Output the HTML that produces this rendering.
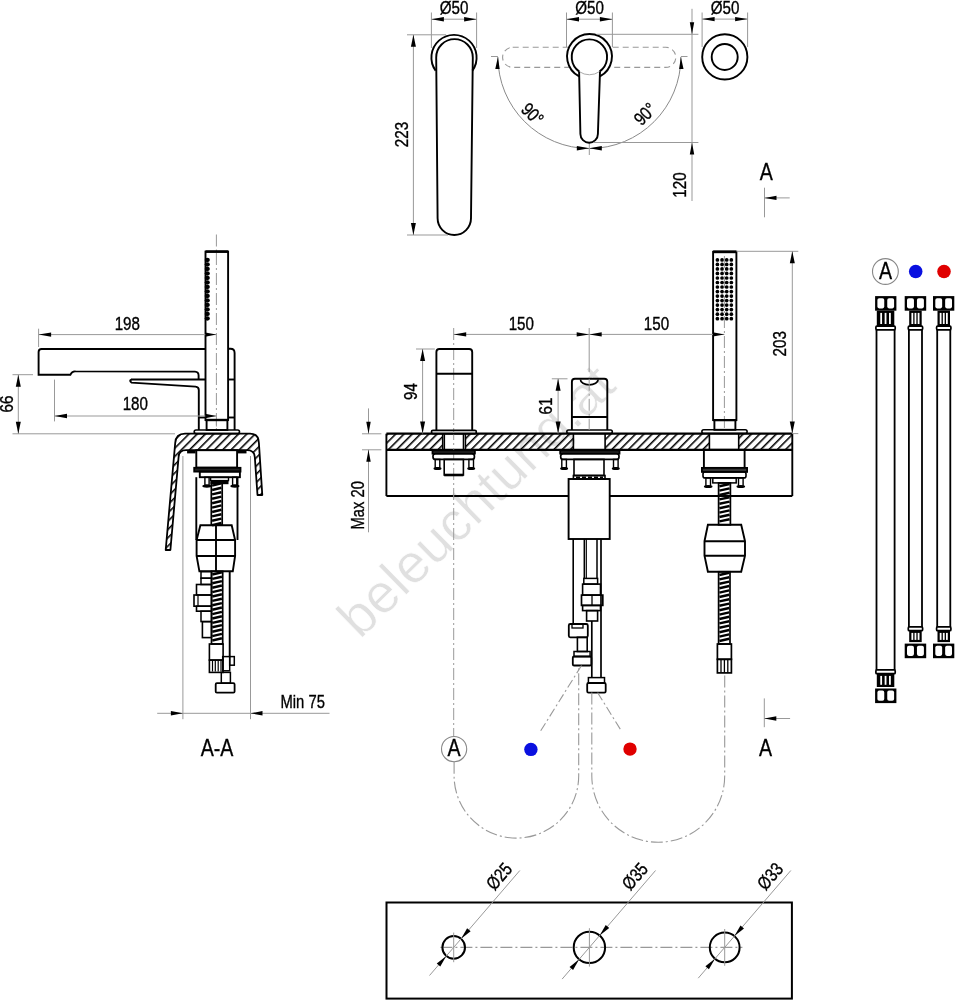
<!DOCTYPE html>
<html><head><meta charset="utf-8"><style>
html,body{margin:0;padding:0;background:#fff;overflow:hidden;}
svg{display:block;will-change:transform;}
text{font-family:"Liberation Sans",sans-serif;}
</style></head><body>
<svg width="955" height="1000" viewBox="0 0 955 1000">
<defs>
<pattern id="hatch" patternUnits="userSpaceOnUse" width="5.85" height="5.85" patternTransform="translate(1.3,0) rotate(45)">
<line x1="0.7" y1="0" x2="0.7" y2="5.85" stroke="#000" stroke-width="1.7"/>
</pattern>
</defs>
<rect width="955" height="1000" fill="#fff"/>
<text transform="translate(360,640) rotate(-44.3)" font-size="55" fill="#e0e0e0" stroke="#fff" stroke-width="0.6" font-family="Liberation Sans, sans-serif">beleuchtung.at</text>
<line x1="431.40" y1="12.50" x2="431.40" y2="48.00" stroke="#999" stroke-width="1.0" />
<line x1="476.60" y1="12.50" x2="476.60" y2="48.00" stroke="#999" stroke-width="1.0" />
<line x1="431.40" y1="19.20" x2="476.60" y2="19.20" stroke="#999" stroke-width="1.0" />
<path d="M431.40,19.20 L443.90,17.00 L443.90,21.40 Z" fill="#000"/>
<path d="M476.60,19.20 L464.10,21.40 L464.10,17.00 Z" fill="#000"/>
<text transform="translate(454.00,14.00) rotate(0) scale(0.82,1)" font-size="18.5" text-anchor="middle" fill="#000" stroke="#000" stroke-width="0.35" >Ø50</text>
<path d="M435.6,70.6 A22.6,22.6 0 1 1 472.4,70.6" stroke="#000" stroke-width="1.9" fill="none" />
<path d="M436.2,57.4 A18.3,18.3 0 0 1 472.8,57.4 L471.0,218.3 A16.7,16.7 0 0 1 437.6,218.3 Z" stroke="#000" stroke-width="1.9" fill="none" />
<line x1="407.00" y1="34.80" x2="446.00" y2="34.80" stroke="#999" stroke-width="1.0" />
<line x1="407.00" y1="235.00" x2="448.00" y2="235.00" stroke="#999" stroke-width="1.0" />
<line x1="413.40" y1="34.80" x2="413.40" y2="235.00" stroke="#999" stroke-width="1.0" />
<path d="M413.40,34.80 L415.90,46.80 L410.90,46.80 Z" fill="#000"/>
<path d="M413.40,235.00 L410.90,223.00 L415.90,223.00 Z" fill="#000"/>
<text transform="translate(407.60,134.50) rotate(-90) scale(0.82,1)" font-size="18.5" text-anchor="middle" fill="#000" stroke="#000" stroke-width="0.35" >223</text>
<line x1="566.50" y1="12.50" x2="566.50" y2="47.00" stroke="#999" stroke-width="1.0" />
<line x1="612.40" y1="12.50" x2="612.40" y2="47.00" stroke="#999" stroke-width="1.0" />
<line x1="566.50" y1="19.20" x2="612.40" y2="19.20" stroke="#999" stroke-width="1.0" />
<path d="M566.50,19.20 L579.00,17.00 L579.00,21.40 Z" fill="#000"/>
<path d="M612.40,19.20 L599.90,21.40 L599.90,17.00 Z" fill="#000"/>
<text transform="translate(589.50,14.00) rotate(0) scale(0.82,1)" font-size="18.5" text-anchor="middle" fill="#000" stroke="#000" stroke-width="0.35" >Ø50</text>
<rect x="502.6" y="47.2" width="173.2" height="20.2" rx="10.1" stroke="#999" stroke-width="1.1" fill="none" stroke-dasharray="6 4"/>
<path d="M497.9,57 A91.5,91.5 0 0 0 589.4,148.5 A91.5,91.5 0 0 0 680.9,57" stroke="#8a8a8a" stroke-width="1" fill="none"/>
<line x1="491.00" y1="56.50" x2="497.90" y2="56.50" stroke="#999" stroke-width="1.0" />
<line x1="680.90" y1="56.50" x2="687.50" y2="56.50" stroke="#999" stroke-width="1.0" />
<path d="M497.90,57.00 L499.68,69.07 L495.28,68.92 Z" fill="#000"/>
<path d="M680.90,57.00 L683.52,68.92 L679.12,69.07 Z" fill="#000"/>
<path d="M589.30,148.30 L576.80,150.50 L576.80,146.10 Z" fill="#000"/>
<path d="M589.30,148.30 L601.80,146.10 L601.80,150.50 Z" fill="#000"/>
<line x1="589.30" y1="142.00" x2="589.30" y2="155.00" stroke="#999" stroke-width="1.0" />
<text transform="translate(528.00,118.50) rotate(45) scale(0.82,1)" font-size="18.5" text-anchor="middle" fill="#000" stroke="#000" stroke-width="0.35" >90°</text>
<text transform="translate(649.50,118.50) rotate(-45) scale(0.82,1)" font-size="18.5" text-anchor="middle" fill="#000" stroke="#000" stroke-width="0.35" >90°</text>
<rect x="567" y="34.4" width="45" height="45" fill="#fff" stroke="none" rx="22.5"/>
<path d="M579.1,76.4 A22.45,22.45 0 1 1 599.9,76.4" stroke="#000" stroke-width="1.9" fill="none" />
<path d="M579.3,71.6 A17.7,17.7 0 1 1 599.5,71.6" stroke="#000" stroke-width="1.9" fill="none" />
<path d="M579.3,71.6 A17.7,17.7 0 0 0 599.5,71.6" stroke="#aaa" stroke-width="1" fill="none"/>
<path d="M579.1,71.6 L580.4,134 A8.75,8.75 0 0 0 597.9,134 L600.0,71.6" stroke="#000" stroke-width="1.9" fill="none" />
<line x1="596.50" y1="34.30" x2="698.40" y2="34.30" stroke="#999" stroke-width="1.0" />
<line x1="594.00" y1="142.50" x2="698.40" y2="142.50" stroke="#999" stroke-width="1.0" />
<line x1="692.00" y1="8.80" x2="692.00" y2="201.00" stroke="#999" stroke-width="1.0" />
<path d="M692.00,34.30 L689.80,22.30 L694.20,22.30 Z" fill="#000"/>
<path d="M692.00,142.50 L694.20,154.50 L689.80,154.50 Z" fill="#000"/>
<text transform="translate(686.20,185.00) rotate(-90) scale(0.82,1)" font-size="18.5" text-anchor="middle" fill="#000" stroke="#000" stroke-width="0.35" >120</text>
<circle cx="724.80" cy="56.90" r="22.60" stroke="#000" stroke-width="1.9" fill="none" />
<circle cx="724.70" cy="57.00" r="13.00" stroke="#000" stroke-width="1.9" fill="none" />
<line x1="702.10" y1="12.50" x2="702.10" y2="47.00" stroke="#999" stroke-width="1.0" />
<line x1="747.60" y1="12.50" x2="747.60" y2="47.00" stroke="#999" stroke-width="1.0" />
<line x1="702.10" y1="19.10" x2="747.60" y2="19.10" stroke="#999" stroke-width="1.0" />
<path d="M702.10,19.10 L714.60,16.90 L714.60,21.30 Z" fill="#000"/>
<path d="M747.60,19.10 L735.10,21.30 L735.10,16.90 Z" fill="#000"/>
<text transform="translate(725.00,14.00) rotate(0) scale(0.82,1)" font-size="18.5" text-anchor="middle" fill="#000" stroke="#000" stroke-width="0.35" >Ø50</text>
<text transform="translate(766.20,179.60) rotate(0) scale(0.8,1)" font-size="24.5" text-anchor="middle" fill="#000" stroke="#000" stroke-width="0.35" >A</text>
<line x1="764.50" y1="187.70" x2="764.50" y2="217.30" stroke="#999" stroke-width="1.0" />
<line x1="764.50" y1="197.90" x2="789.70" y2="197.90" stroke="#999" stroke-width="1.0" />
<path d="M764.50,197.90 L776.50,195.70 L776.50,200.10 Z" fill="#000"/>
<line x1="216.40" y1="234.50" x2="216.40" y2="430.00" stroke="#999" stroke-width="1.0" stroke-dasharray="12 3 2 3"/>
<rect x="205.5" y="251.6" width="22.6" height="168.4" fill="#fff"/>
<line x1="216.40" y1="253.00" x2="216.40" y2="430.00" stroke="#999" stroke-width="1.0" stroke-dasharray="12 3 2 3"/>
<rect x="205.50" y="251.60" width="22.60" height="168.40" rx="0" stroke="#000" stroke-width="1.9" fill="none"/>
<line x1="205.50" y1="251.60" x2="228.10" y2="251.60" stroke="#000" stroke-width="2.6" />
<ellipse cx="207.3" cy="260.00" rx="2.6" ry="2.15" fill="#000"/>
<ellipse cx="207.3" cy="264.50" rx="2.6" ry="2.15" fill="#000"/>
<ellipse cx="207.3" cy="269.00" rx="2.6" ry="2.15" fill="#000"/>
<ellipse cx="207.3" cy="273.50" rx="2.6" ry="2.15" fill="#000"/>
<ellipse cx="207.3" cy="278.00" rx="2.6" ry="2.15" fill="#000"/>
<ellipse cx="207.3" cy="282.50" rx="2.6" ry="2.15" fill="#000"/>
<ellipse cx="207.3" cy="287.00" rx="2.6" ry="2.15" fill="#000"/>
<ellipse cx="207.3" cy="291.50" rx="2.6" ry="2.15" fill="#000"/>
<ellipse cx="207.3" cy="296.00" rx="2.6" ry="2.15" fill="#000"/>
<ellipse cx="207.3" cy="300.50" rx="2.6" ry="2.15" fill="#000"/>
<ellipse cx="207.3" cy="305.00" rx="2.6" ry="2.15" fill="#000"/>
<ellipse cx="207.3" cy="309.50" rx="2.6" ry="2.15" fill="#000"/>
<ellipse cx="207.3" cy="314.00" rx="2.6" ry="2.15" fill="#000"/>
<ellipse cx="207.3" cy="318.50" rx="2.6" ry="2.15" fill="#000"/>
<rect x="206.60" y="420.00" width="20.80" height="10.00" rx="0" stroke="#000" stroke-width="1.9" fill="none"/>
<line x1="205.50" y1="420.00" x2="228.10" y2="420.00" stroke="#000" stroke-width="2.4" />
<rect x="194.20" y="430.00" width="45.30" height="3.60" rx="1.8" stroke="#000" stroke-width="1.6" fill="none"/>
<path d="M205.5,349 L41.6,349 Q38.6,349 38.6,352 L38.6,374.7 L70.4,374.7 Q72,371 75.5,371.4 L195,371.6 Q198.6,371.8 198.6,375.5 L198.6,379.5" stroke="#000" stroke-width="1.9" fill="none" />
<line x1="130.90" y1="379.50" x2="205.50" y2="379.50" stroke="#000" stroke-width="1.9" />
<path d="M131.5,379.6 Q128.8,380.5 131.5,382.6 L195.5,386.6 Q198.8,386.9 198.8,390 L198.8,430" stroke="#000" stroke-width="1.9" fill="none" />
<line x1="198.80" y1="417.50" x2="205.50" y2="417.50" stroke="#000" stroke-width="1.9" />
<path d="M228.1,348.8 L230.5,348.8 Q234.6,348.8 234.6,353 L234.6,430" stroke="#000" stroke-width="1.9" fill="none" />
<line x1="228.10" y1="379.50" x2="234.60" y2="379.50" stroke="#000" stroke-width="1.9" />
<line x1="228.10" y1="417.50" x2="234.60" y2="417.50" stroke="#000" stroke-width="1.9" />
<path d="M165.7,550 L175.2,443 Q175.8,433.6 185,433.6 L250,433.6 Q258.6,433.6 258.9,443 L262.3,495 L257.5,495 L254.8,457 Q254.3,450.2 247,450.2 L186,450.2 Q179,450.2 178.6,457 L170.4,550 Z" fill="url(#hatch)" stroke="#000" stroke-width="1.8" stroke-linejoin="round"/>
<line x1="182.90" y1="456.00" x2="182.90" y2="719.20" stroke="#999" stroke-width="1.0" />
<line x1="250.50" y1="456.00" x2="250.50" y2="719.20" stroke="#999" stroke-width="1.0" />
<rect x="187.1" y="450.4" width="8.5" height="3" fill="#000"/>
<rect x="238" y="450.4" width="8.5" height="3" fill="#000"/>
<rect x="196.30" y="450.20" width="40.80" height="17.40" rx="0" stroke="#000" stroke-width="1.9" fill="none"/>
<rect x="194.20" y="467.80" width="46.30" height="3.80" rx="0" stroke="#000" stroke-width="1.8" fill="#222"/>
<rect x="199.80" y="471.60" width="40.10" height="5.60" rx="0" stroke="#000" stroke-width="1.9" fill="none"/>
<rect x="204.90" y="477.20" width="4.20" height="8.00" rx="0" stroke="#000" stroke-width="1.4" fill="none"/>
<rect x="232.60" y="477.20" width="4.20" height="8.00" rx="0" stroke="#000" stroke-width="1.4" fill="none"/>
<ellipse cx="206.9" cy="486.1" rx="4.6" ry="1.6" fill="#000"/>
<ellipse cx="234.9" cy="486.1" rx="4.6" ry="1.6" fill="#000"/>
<rect x="210.60" y="477.40" width="17.90" height="3.20" rx="0" stroke="#000" stroke-width="1.4" fill="none"/>
<rect x="210.6" y="480.6" width="17.9" height="3.6" fill="#000"/>
<line x1="196.30" y1="477.20" x2="196.30" y2="540.00" stroke="#000" stroke-width="1.9" />
<line x1="237.50" y1="477.20" x2="237.50" y2="540.00" stroke="#000" stroke-width="1.9" />
<rect x="211.30" y="482.40" width="10.90" height="42.60" rx="0" stroke="#000" stroke-width="1.7" fill="none"/>
<line x1="212.10" y1="485.60" x2="221.40" y2="483.40" stroke="#000" stroke-width="2.5" />
<line x1="212.10" y1="490.00" x2="221.40" y2="487.80" stroke="#000" stroke-width="2.5" />
<line x1="212.10" y1="494.40" x2="221.40" y2="492.20" stroke="#000" stroke-width="2.5" />
<line x1="212.10" y1="498.80" x2="221.40" y2="496.60" stroke="#000" stroke-width="2.5" />
<line x1="212.10" y1="503.20" x2="221.40" y2="501.00" stroke="#000" stroke-width="2.5" />
<line x1="212.10" y1="507.60" x2="221.40" y2="505.40" stroke="#000" stroke-width="2.5" />
<line x1="212.10" y1="512.00" x2="221.40" y2="509.80" stroke="#000" stroke-width="2.5" />
<line x1="212.10" y1="516.40" x2="221.40" y2="514.20" stroke="#000" stroke-width="2.5" />
<line x1="212.10" y1="520.80" x2="221.40" y2="518.60" stroke="#000" stroke-width="2.5" />
<line x1="212.10" y1="525.20" x2="221.40" y2="523.00" stroke="#000" stroke-width="2.5" />
<path d="M200.4,525.2 L231.7,525.2 L235.1,540 L235.1,556 L232.8,571.3 L199.4,571.3 L196.6,556 L196.6,540 Z" stroke="#000" stroke-width="1.9" fill="none" />
<line x1="196.60" y1="540.00" x2="235.10" y2="540.00" stroke="#000" stroke-width="1.9" />
<line x1="196.60" y1="556.00" x2="235.10" y2="556.00" stroke="#000" stroke-width="1.9" />
<line x1="216.00" y1="525.20" x2="216.00" y2="571.30" stroke="#000" stroke-width="1.9" />
<rect x="211.50" y="571.30" width="11.20" height="72.70" rx="0" stroke="#000" stroke-width="1.7" fill="none"/>
<line x1="212.30" y1="574.50" x2="221.90" y2="572.30" stroke="#000" stroke-width="2.5" />
<line x1="212.30" y1="578.90" x2="221.90" y2="576.70" stroke="#000" stroke-width="2.5" />
<line x1="212.30" y1="583.30" x2="221.90" y2="581.10" stroke="#000" stroke-width="2.5" />
<line x1="212.30" y1="587.70" x2="221.90" y2="585.50" stroke="#000" stroke-width="2.5" />
<line x1="212.30" y1="592.10" x2="221.90" y2="589.90" stroke="#000" stroke-width="2.5" />
<line x1="212.30" y1="596.50" x2="221.90" y2="594.30" stroke="#000" stroke-width="2.5" />
<line x1="212.30" y1="600.90" x2="221.90" y2="598.70" stroke="#000" stroke-width="2.5" />
<line x1="212.30" y1="605.30" x2="221.90" y2="603.10" stroke="#000" stroke-width="2.5" />
<line x1="212.30" y1="609.70" x2="221.90" y2="607.50" stroke="#000" stroke-width="2.5" />
<line x1="212.30" y1="614.10" x2="221.90" y2="611.90" stroke="#000" stroke-width="2.5" />
<line x1="212.30" y1="618.50" x2="221.90" y2="616.30" stroke="#000" stroke-width="2.5" />
<line x1="212.30" y1="622.90" x2="221.90" y2="620.70" stroke="#000" stroke-width="2.5" />
<line x1="212.30" y1="627.30" x2="221.90" y2="625.10" stroke="#000" stroke-width="2.5" />
<line x1="212.30" y1="631.70" x2="221.90" y2="629.50" stroke="#000" stroke-width="2.5" />
<line x1="212.30" y1="636.10" x2="221.90" y2="633.90" stroke="#000" stroke-width="2.5" />
<line x1="212.30" y1="640.50" x2="221.90" y2="638.30" stroke="#000" stroke-width="2.5" />
<line x1="229.70" y1="571.30" x2="229.70" y2="657.00" stroke="#000" stroke-width="1.9" />
<rect x="201.00" y="571.60" width="10.50" height="6.60" rx="0" stroke="#000" stroke-width="1.5" fill="none"/>
<rect x="201.00" y="578.20" width="10.50" height="6.30" rx="0" stroke="#000" stroke-width="1.5" fill="none"/>
<rect x="196.50" y="584.50" width="15.00" height="10.50" rx="0" stroke="#000" stroke-width="1.6" fill="none"/>
<rect x="194.00" y="595.00" width="17.50" height="11.20" rx="0" stroke="#000" stroke-width="1.6" fill="none"/>
<line x1="198.00" y1="595.00" x2="198.00" y2="606.20" stroke="#000" stroke-width="1.2" />
<rect x="196.50" y="606.20" width="15.00" height="5.00" rx="0" stroke="#000" stroke-width="1.6" fill="none"/>
<rect x="201.00" y="611.20" width="10.50" height="10.40" rx="0" stroke="#000" stroke-width="1.5" fill="none"/>
<rect x="202.40" y="621.60" width="9.10" height="16.00" rx="0" stroke="#000" stroke-width="1.6" fill="none"/>
<rect x="209.40" y="644.00" width="13.70" height="16.10" rx="0" stroke="#000" stroke-width="1.6" fill="none"/>
<rect x="209.40" y="660.10" width="13.70" height="12.30" rx="0" stroke="#000" stroke-width="1.6" fill="none"/>
<line x1="212.50" y1="661.00" x2="212.50" y2="671.50" stroke="#000" stroke-width="1.2" />
<line x1="215.30" y1="661.00" x2="215.30" y2="671.50" stroke="#000" stroke-width="1.2" />
<line x1="218.20" y1="661.00" x2="218.20" y2="671.50" stroke="#000" stroke-width="1.2" />
<line x1="221.00" y1="661.00" x2="221.00" y2="671.50" stroke="#000" stroke-width="1.2" />
<rect x="222.70" y="656.60" width="7.00" height="14.20" rx="0" stroke="#000" stroke-width="1.5" fill="none"/>
<rect x="229.70" y="656.60" width="4.60" height="8.60" rx="0" stroke="#000" stroke-width="1.5" fill="none"/>
<rect x="221.30" y="672.40" width="9.10" height="10.80" rx="0" stroke="#000" stroke-width="1.5" fill="none"/>
<rect x="215.70" y="683.20" width="18.90" height="9.40" rx="1.2" stroke="#000" stroke-width="1.8" fill="none"/>
<line x1="38.60" y1="328.70" x2="38.60" y2="347.00" stroke="#999" stroke-width="1.0" />
<line x1="38.60" y1="334.60" x2="216.30" y2="334.60" stroke="#999" stroke-width="1.0" />
<path d="M38.60,334.60 L51.10,332.40 L51.10,336.80 Z" fill="#000"/>
<path d="M216.30,334.60 L205.30,336.80 L205.30,332.40 Z" fill="#000"/>
<text transform="translate(127.30,329.80) rotate(0) scale(0.82,1)" font-size="18.5" text-anchor="middle" fill="#000" stroke="#000" stroke-width="0.35" >198</text>
<line x1="12.50" y1="374.70" x2="33.00" y2="374.70" stroke="#999" stroke-width="1.0" />
<line x1="12.50" y1="433.80" x2="175.00" y2="433.80" stroke="#999" stroke-width="1.0" />
<line x1="18.30" y1="374.70" x2="18.30" y2="433.80" stroke="#999" stroke-width="1.0" />
<path d="M18.30,374.70 L20.80,386.70 L15.80,386.70 Z" fill="#000"/>
<path d="M18.30,433.80 L15.80,421.80 L20.80,421.80 Z" fill="#000"/>
<text transform="translate(13.40,404.10) rotate(-90) scale(0.82,1)" font-size="18.5" text-anchor="middle" fill="#000" stroke="#000" stroke-width="0.35" >66</text>
<line x1="54.50" y1="379.60" x2="54.50" y2="421.40" stroke="#999" stroke-width="1.0" />
<line x1="54.50" y1="416.00" x2="216.30" y2="416.00" stroke="#999" stroke-width="1.0" />
<path d="M54.50,416.00 L67.00,413.80 L67.00,418.20 Z" fill="#000"/>
<path d="M216.30,416.00 L205.30,418.20 L205.30,413.80 Z" fill="#000"/>
<text transform="translate(135.30,410.40) rotate(0) scale(0.82,1)" font-size="18.5" text-anchor="middle" fill="#000" stroke="#000" stroke-width="0.35" >180</text>
<line x1="157.20" y1="713.30" x2="329.50" y2="713.30" stroke="#999" stroke-width="1.0" />
<path d="M182.90,713.30 L170.90,715.50 L170.90,711.10 Z" fill="#000"/>
<path d="M250.50,713.30 L262.50,711.10 L262.50,715.50 Z" fill="#000"/>
<text transform="translate(302.70,708.20) rotate(0) scale(0.8,1)" font-size="18.5" text-anchor="middle" fill="#000" stroke="#000" stroke-width="0.35" >Min 75</text>
<text transform="translate(217.00,756.30) rotate(0) scale(0.8,1)" font-size="24.5" text-anchor="middle" fill="#000" stroke="#000" stroke-width="0.35" >A-A</text>
<rect x="386.4" y="433.7" width="56.30" height="16.1" fill="url(#hatch)" stroke="none"/>
<rect x="465.4" y="433.7" width="108.00" height="16.1" fill="url(#hatch)" stroke="none"/>
<rect x="605.1" y="433.7" width="104.30" height="16.1" fill="url(#hatch)" stroke="none"/>
<rect x="738.7" y="433.7" width="53.60" height="16.1" fill="url(#hatch)" stroke="none"/>
<line x1="386.40" y1="433.70" x2="792.30" y2="433.70" stroke="#000" stroke-width="2.2" />
<line x1="386.40" y1="449.80" x2="792.30" y2="449.80" stroke="#000" stroke-width="2.2" />
<line x1="386.40" y1="433.70" x2="386.40" y2="496.00" stroke="#000" stroke-width="1.9" />
<line x1="792.30" y1="433.70" x2="792.30" y2="496.00" stroke="#000" stroke-width="1.9" />
<line x1="386.40" y1="496.00" x2="568.60" y2="496.00" stroke="#000" stroke-width="1.9" />
<line x1="609.70" y1="496.00" x2="792.30" y2="496.00" stroke="#000" stroke-width="1.9" />
<line x1="442.70" y1="433.70" x2="442.70" y2="449.80" stroke="#000" stroke-width="1.6" />
<line x1="465.40" y1="433.70" x2="465.40" y2="449.80" stroke="#000" stroke-width="1.6" />
<line x1="573.40" y1="433.70" x2="573.40" y2="449.80" stroke="#000" stroke-width="1.6" />
<line x1="605.10" y1="433.70" x2="605.10" y2="449.80" stroke="#000" stroke-width="1.6" />
<line x1="709.40" y1="433.70" x2="709.40" y2="449.80" stroke="#000" stroke-width="1.6" />
<line x1="738.70" y1="433.70" x2="738.70" y2="449.80" stroke="#000" stroke-width="1.6" />
<line x1="453.70" y1="328.00" x2="453.70" y2="736.50" stroke="#999" stroke-width="1.0" stroke-dasharray="12 3 2 3"/>
<path d="M436.4,430.4 L436.4,352 Q436.4,349 439.4,349 L469.2,349 Q472.2,349 472.2,352 L472.2,430.4" stroke="#000" stroke-width="1.9" fill="none" />
<line x1="436.40" y1="373.80" x2="472.20" y2="373.80" stroke="#000" stroke-width="1.9" />
<rect x="431.40" y="430.40" width="45.00" height="3.30" rx="1.6" stroke="#000" stroke-width="1.6" fill="none"/>
<line x1="444.40" y1="433.70" x2="444.40" y2="449.80" stroke="#000" stroke-width="1.4" />
<line x1="463.40" y1="433.70" x2="463.40" y2="449.80" stroke="#000" stroke-width="1.4" />
<rect x="432.50" y="450.60" width="42.40" height="3.00" rx="0" stroke="#000" stroke-width="1.8" fill="#333"/>
<rect x="433.00" y="453.60" width="41.40" height="5.80" rx="2.5" stroke="#000" stroke-width="1.7" fill="none"/>
<rect x="435.20" y="459.40" width="4.60" height="8.40" rx="0" stroke="#000" stroke-width="1.4" fill="none"/>
<ellipse cx="437.5" cy="468.40000000000003" rx="4.0" ry="1.5" fill="#000"/>
<rect x="468.90" y="459.40" width="4.60" height="8.40" rx="0" stroke="#000" stroke-width="1.4" fill="none"/>
<ellipse cx="471.2" cy="468.40000000000003" rx="4.0" ry="1.5" fill="#000"/>
<rect x="444.20" y="459.40" width="19.20" height="15.60" rx="0" stroke="#000" stroke-width="1.6" fill="none"/>
<line x1="444.20" y1="475.00" x2="463.40" y2="475.00" stroke="#000" stroke-width="2.6" />
<path d="M571.9,430 L571.9,381.8 Q571.9,378.8 574.9,378.8 L604.3,378.8 Q607.3,378.8 607.3,381.8 L607.3,430" stroke="#000" stroke-width="1.9" fill="none" />
<path d="M580.4,379.6 A8.9,5.2 0 0 0 598.2,379.6" stroke="#000" stroke-width="1.7" fill="none" />
<line x1="571.90" y1="417.00" x2="607.30" y2="417.00" stroke="#000" stroke-width="1.9" />
<rect x="566.80" y="430.00" width="45.50" height="3.50" rx="1.7" stroke="#000" stroke-width="1.6" fill="none"/>
<line x1="589.20" y1="378.80" x2="589.20" y2="430.00" stroke="#999" stroke-width="1.0" stroke-dasharray="12 3 2 3"/>
<line x1="589.20" y1="328.00" x2="589.20" y2="372.00" stroke="#999" stroke-width="1.0" />
<rect x="560.20" y="450.60" width="59.30" height="3.00" rx="0" stroke="#000" stroke-width="1.8" fill="#333"/>
<rect x="560.70" y="453.60" width="58.30" height="5.80" rx="2.5" stroke="#000" stroke-width="1.7" fill="none"/>
<rect x="561.80" y="459.40" width="4.60" height="8.40" rx="0" stroke="#000" stroke-width="1.4" fill="none"/>
<ellipse cx="564.1" cy="468.40000000000003" rx="4.0" ry="1.5" fill="#000"/>
<rect x="613.50" y="459.40" width="4.60" height="8.40" rx="0" stroke="#000" stroke-width="1.4" fill="none"/>
<ellipse cx="615.8" cy="468.40000000000003" rx="4.0" ry="1.5" fill="#000"/>
<rect x="574.00" y="459.40" width="30.00" height="16.10" rx="0" stroke="#000" stroke-width="1.6" fill="none"/>
<rect x="573.40" y="475.50" width="31.60" height="3.50" rx="0" stroke="#000" stroke-width="1.6" fill="none"/>
<line x1="576.00" y1="477.25" x2="603.00" y2="477.25" stroke="#000" stroke-width="1.3" stroke-dasharray="4 2"/>
<rect x="568.60" y="479.00" width="41.10" height="60.00" rx="0" stroke="#000" stroke-width="1.9" fill="none"/>
<line x1="573.20" y1="539.00" x2="573.20" y2="624.00" stroke="#000" stroke-width="1.6" />
<line x1="584.30" y1="539.00" x2="584.30" y2="578.40" stroke="#000" stroke-width="1.5" />
<line x1="586.30" y1="539.00" x2="586.30" y2="578.40" stroke="#000" stroke-width="1.2" />
<line x1="597.00" y1="539.00" x2="597.00" y2="578.40" stroke="#000" stroke-width="1.5" />
<line x1="601.00" y1="539.00" x2="601.00" y2="677.60" stroke="#000" stroke-width="1.7" />
<line x1="591.80" y1="621.00" x2="591.80" y2="677.60" stroke="#000" stroke-width="1.7" />
<rect x="583.80" y="578.40" width="13.80" height="5.70" rx="0" stroke="#000" stroke-width="1.5" fill="none"/>
<rect x="582.60" y="584.10" width="17.90" height="11.00" rx="0" stroke="#000" stroke-width="1.6" fill="none"/>
<rect x="581.50" y="595.10" width="21.30" height="10.30" rx="0" stroke="#000" stroke-width="1.7" fill="none"/>
<line x1="592.00" y1="595.10" x2="592.00" y2="605.40" stroke="#000" stroke-width="1.3" />
<rect x="582.60" y="605.40" width="17.90" height="5.20" rx="0" stroke="#000" stroke-width="1.6" fill="none"/>
<rect x="586.60" y="610.60" width="11.00" height="10.40" rx="0" stroke="#000" stroke-width="1.6" fill="none"/>
<rect x="568.80" y="624.00" width="19.00" height="13.30" rx="1.5" stroke="#000" stroke-width="1.8" fill="none"/>
<rect x="572.00" y="624.00" width="11.00" height="4.00" rx="0" stroke="#000" stroke-width="1.3" fill="none"/>
<rect x="577.40" y="637.30" width="9.80" height="14.20" rx="0" stroke="#000" stroke-width="1.6" fill="none"/>
<rect x="574.00" y="651.50" width="16.10" height="5.00" rx="0" stroke="#000" stroke-width="1.5" fill="none"/>
<rect x="572.80" y="656.50" width="18.50" height="9.00" rx="1.3" stroke="#000" stroke-width="1.8" fill="none"/>
<rect x="588.40" y="677.60" width="16.10" height="5.40" rx="0" stroke="#000" stroke-width="1.5" fill="none"/>
<rect x="587.20" y="683.00" width="18.50" height="9.60" rx="1.3" stroke="#000" stroke-width="1.8" fill="none"/>
<rect x="713.10" y="251.80" width="23.30" height="168.30" rx="0" stroke="#000" stroke-width="1.9" fill="none"/>
<line x1="713.10" y1="251.80" x2="736.40" y2="251.80" stroke="#000" stroke-width="2.8" />
<line x1="724.40" y1="256.00" x2="724.40" y2="430.00" stroke="#999" stroke-width="1.0" stroke-dasharray="12 3 2 3"/>
<circle cx="717.40" cy="259.90" r="1.85" stroke="none" stroke-width="0" fill="#000" />
<circle cx="722.05" cy="259.90" r="1.85" stroke="none" stroke-width="0" fill="#000" />
<circle cx="726.70" cy="259.90" r="1.85" stroke="none" stroke-width="0" fill="#000" />
<circle cx="731.35" cy="259.90" r="1.85" stroke="none" stroke-width="0" fill="#000" />
<circle cx="717.40" cy="264.42" r="1.85" stroke="none" stroke-width="0" fill="#000" />
<circle cx="722.05" cy="264.42" r="1.85" stroke="none" stroke-width="0" fill="#000" />
<circle cx="726.70" cy="264.42" r="1.85" stroke="none" stroke-width="0" fill="#000" />
<circle cx="731.35" cy="264.42" r="1.85" stroke="none" stroke-width="0" fill="#000" />
<circle cx="717.40" cy="268.94" r="1.85" stroke="none" stroke-width="0" fill="#000" />
<circle cx="722.05" cy="268.94" r="1.85" stroke="none" stroke-width="0" fill="#000" />
<circle cx="726.70" cy="268.94" r="1.85" stroke="none" stroke-width="0" fill="#000" />
<circle cx="731.35" cy="268.94" r="1.85" stroke="none" stroke-width="0" fill="#000" />
<circle cx="717.40" cy="273.46" r="1.85" stroke="none" stroke-width="0" fill="#000" />
<circle cx="722.05" cy="273.46" r="1.85" stroke="none" stroke-width="0" fill="#000" />
<circle cx="726.70" cy="273.46" r="1.85" stroke="none" stroke-width="0" fill="#000" />
<circle cx="731.35" cy="273.46" r="1.85" stroke="none" stroke-width="0" fill="#000" />
<circle cx="717.40" cy="277.98" r="1.85" stroke="none" stroke-width="0" fill="#000" />
<circle cx="722.05" cy="277.98" r="1.85" stroke="none" stroke-width="0" fill="#000" />
<circle cx="726.70" cy="277.98" r="1.85" stroke="none" stroke-width="0" fill="#000" />
<circle cx="731.35" cy="277.98" r="1.85" stroke="none" stroke-width="0" fill="#000" />
<circle cx="717.40" cy="282.50" r="1.85" stroke="none" stroke-width="0" fill="#000" />
<circle cx="722.05" cy="282.50" r="1.85" stroke="none" stroke-width="0" fill="#000" />
<circle cx="726.70" cy="282.50" r="1.85" stroke="none" stroke-width="0" fill="#000" />
<circle cx="731.35" cy="282.50" r="1.85" stroke="none" stroke-width="0" fill="#000" />
<circle cx="717.40" cy="287.02" r="1.85" stroke="none" stroke-width="0" fill="#000" />
<circle cx="722.05" cy="287.02" r="1.85" stroke="none" stroke-width="0" fill="#000" />
<circle cx="726.70" cy="287.02" r="1.85" stroke="none" stroke-width="0" fill="#000" />
<circle cx="731.35" cy="287.02" r="1.85" stroke="none" stroke-width="0" fill="#000" />
<circle cx="717.40" cy="291.54" r="1.85" stroke="none" stroke-width="0" fill="#000" />
<circle cx="722.05" cy="291.54" r="1.85" stroke="none" stroke-width="0" fill="#000" />
<circle cx="726.70" cy="291.54" r="1.85" stroke="none" stroke-width="0" fill="#000" />
<circle cx="731.35" cy="291.54" r="1.85" stroke="none" stroke-width="0" fill="#000" />
<circle cx="717.40" cy="296.06" r="1.85" stroke="none" stroke-width="0" fill="#000" />
<circle cx="722.05" cy="296.06" r="1.85" stroke="none" stroke-width="0" fill="#000" />
<circle cx="726.70" cy="296.06" r="1.85" stroke="none" stroke-width="0" fill="#000" />
<circle cx="731.35" cy="296.06" r="1.85" stroke="none" stroke-width="0" fill="#000" />
<circle cx="717.40" cy="300.58" r="1.85" stroke="none" stroke-width="0" fill="#000" />
<circle cx="722.05" cy="300.58" r="1.85" stroke="none" stroke-width="0" fill="#000" />
<circle cx="726.70" cy="300.58" r="1.85" stroke="none" stroke-width="0" fill="#000" />
<circle cx="731.35" cy="300.58" r="1.85" stroke="none" stroke-width="0" fill="#000" />
<circle cx="717.40" cy="305.10" r="1.85" stroke="none" stroke-width="0" fill="#000" />
<circle cx="722.05" cy="305.10" r="1.85" stroke="none" stroke-width="0" fill="#000" />
<circle cx="726.70" cy="305.10" r="1.85" stroke="none" stroke-width="0" fill="#000" />
<circle cx="731.35" cy="305.10" r="1.85" stroke="none" stroke-width="0" fill="#000" />
<circle cx="717.40" cy="309.62" r="1.85" stroke="none" stroke-width="0" fill="#000" />
<circle cx="722.05" cy="309.62" r="1.85" stroke="none" stroke-width="0" fill="#000" />
<circle cx="726.70" cy="309.62" r="1.85" stroke="none" stroke-width="0" fill="#000" />
<circle cx="731.35" cy="309.62" r="1.85" stroke="none" stroke-width="0" fill="#000" />
<circle cx="717.40" cy="314.14" r="1.85" stroke="none" stroke-width="0" fill="#000" />
<circle cx="722.05" cy="314.14" r="1.85" stroke="none" stroke-width="0" fill="#000" />
<circle cx="726.70" cy="314.14" r="1.85" stroke="none" stroke-width="0" fill="#000" />
<circle cx="731.35" cy="314.14" r="1.85" stroke="none" stroke-width="0" fill="#000" />
<circle cx="717.40" cy="318.66" r="1.85" stroke="none" stroke-width="0" fill="#000" />
<circle cx="722.05" cy="318.66" r="1.85" stroke="none" stroke-width="0" fill="#000" />
<circle cx="726.70" cy="318.66" r="1.85" stroke="none" stroke-width="0" fill="#000" />
<circle cx="731.35" cy="318.66" r="1.85" stroke="none" stroke-width="0" fill="#000" />
<rect x="714.40" y="420.10" width="21.00" height="9.70" rx="0" stroke="#000" stroke-width="1.9" fill="none"/>
<line x1="713.10" y1="420.10" x2="736.40" y2="420.10" stroke="#000" stroke-width="2.2" />
<rect x="701.90" y="429.80" width="45.20" height="3.70" rx="1.8" stroke="#000" stroke-width="1.6" fill="none"/>
<rect x="703.90" y="449.80" width="40.70" height="18.10" rx="0" stroke="#000" stroke-width="1.9" fill="none"/>
<rect x="701.90" y="467.90" width="45.20" height="4.00" rx="0" stroke="#000" stroke-width="1.8" fill="#333"/>
<rect x="703.00" y="471.90" width="43.00" height="6.00" rx="2" stroke="#000" stroke-width="1.6" fill="none"/>
<rect x="705.90" y="477.90" width="4.60" height="8.40" rx="0" stroke="#000" stroke-width="1.4" fill="none"/>
<ellipse cx="708.2" cy="486.6" rx="4.3" ry="1.5" fill="#000"/>
<rect x="738.50" y="477.90" width="4.60" height="8.40" rx="0" stroke="#000" stroke-width="1.4" fill="none"/>
<ellipse cx="740.8" cy="486.6" rx="4.3" ry="1.5" fill="#000"/>
<rect x="712.80" y="477.90" width="23.40" height="5.00" rx="0" stroke="#000" stroke-width="1.5" fill="none"/>
<rect x="718.60" y="483.00" width="11.80" height="41.80" rx="0" stroke="#000" stroke-width="1.7" fill="none"/>
<line x1="719.40" y1="486.20" x2="729.60" y2="484.00" stroke="#000" stroke-width="2.5" />
<line x1="719.40" y1="490.60" x2="729.60" y2="488.40" stroke="#000" stroke-width="2.5" />
<line x1="719.40" y1="495.00" x2="729.60" y2="492.80" stroke="#000" stroke-width="2.5" />
<line x1="719.40" y1="499.40" x2="729.60" y2="497.20" stroke="#000" stroke-width="2.5" />
<line x1="719.40" y1="503.80" x2="729.60" y2="501.60" stroke="#000" stroke-width="2.5" />
<line x1="719.40" y1="508.20" x2="729.60" y2="506.00" stroke="#000" stroke-width="2.5" />
<line x1="719.40" y1="512.60" x2="729.60" y2="510.40" stroke="#000" stroke-width="2.5" />
<line x1="719.40" y1="517.00" x2="729.60" y2="514.80" stroke="#000" stroke-width="2.5" />
<line x1="719.40" y1="521.40" x2="729.60" y2="519.20" stroke="#000" stroke-width="2.5" />
<path d="M707.9,524.8 L741.2,524.8 L745,541.2 L745,555.7 L741.2,571.8 L707.9,571.8 L704.5,555.7 L704.5,541.2 Z" stroke="#000" stroke-width="1.9" fill="none" />
<line x1="704.50" y1="541.20" x2="745.00" y2="541.20" stroke="#000" stroke-width="1.9" />
<line x1="704.50" y1="555.70" x2="745.00" y2="555.70" stroke="#000" stroke-width="1.9" />
<rect x="718.60" y="571.80" width="11.40" height="72.20" rx="0" stroke="#000" stroke-width="1.7" fill="none"/>
<line x1="719.40" y1="575.00" x2="729.20" y2="572.80" stroke="#000" stroke-width="2.5" />
<line x1="719.40" y1="579.40" x2="729.20" y2="577.20" stroke="#000" stroke-width="2.5" />
<line x1="719.40" y1="583.80" x2="729.20" y2="581.60" stroke="#000" stroke-width="2.5" />
<line x1="719.40" y1="588.20" x2="729.20" y2="586.00" stroke="#000" stroke-width="2.5" />
<line x1="719.40" y1="592.60" x2="729.20" y2="590.40" stroke="#000" stroke-width="2.5" />
<line x1="719.40" y1="597.00" x2="729.20" y2="594.80" stroke="#000" stroke-width="2.5" />
<line x1="719.40" y1="601.40" x2="729.20" y2="599.20" stroke="#000" stroke-width="2.5" />
<line x1="719.40" y1="605.80" x2="729.20" y2="603.60" stroke="#000" stroke-width="2.5" />
<line x1="719.40" y1="610.20" x2="729.20" y2="608.00" stroke="#000" stroke-width="2.5" />
<line x1="719.40" y1="614.60" x2="729.20" y2="612.40" stroke="#000" stroke-width="2.5" />
<line x1="719.40" y1="619.00" x2="729.20" y2="616.80" stroke="#000" stroke-width="2.5" />
<line x1="719.40" y1="623.40" x2="729.20" y2="621.20" stroke="#000" stroke-width="2.5" />
<line x1="719.40" y1="627.80" x2="729.20" y2="625.60" stroke="#000" stroke-width="2.5" />
<line x1="719.40" y1="632.20" x2="729.20" y2="630.00" stroke="#000" stroke-width="2.5" />
<line x1="719.40" y1="636.60" x2="729.20" y2="634.40" stroke="#000" stroke-width="2.5" />
<line x1="719.40" y1="641.00" x2="729.20" y2="638.80" stroke="#000" stroke-width="2.5" />
<rect x="717.40" y="644.00" width="14.00" height="15.30" rx="0" stroke="#000" stroke-width="1.7" fill="none"/>
<rect x="717.40" y="659.30" width="14.00" height="13.60" rx="0" stroke="#000" stroke-width="1.7" fill="none"/>
<line x1="721.00" y1="660.00" x2="721.00" y2="672.50" stroke="#000" stroke-width="1.3" />
<line x1="724.40" y1="660.00" x2="724.40" y2="672.50" stroke="#000" stroke-width="1.3" />
<line x1="727.80" y1="660.00" x2="727.80" y2="672.50" stroke="#000" stroke-width="1.3" />
<line x1="453.70" y1="334.40" x2="724.40" y2="334.40" stroke="#999" stroke-width="1.0" />
<path d="M453.70,334.40 L466.20,332.20 L466.20,336.60 Z" fill="#000"/>
<path d="M589.20,334.40 L576.70,336.60 L576.70,332.20 Z" fill="#000"/>
<path d="M589.20,334.40 L601.70,332.20 L601.70,336.60 Z" fill="#000"/>
<path d="M724.40,334.40 L712.90,336.60 L712.90,332.20 Z" fill="#000"/>
<text transform="translate(521.30,329.60) rotate(0) scale(0.82,1)" font-size="18.5" text-anchor="middle" fill="#000" stroke="#000" stroke-width="0.35" >150</text>
<text transform="translate(656.50,329.60) rotate(0) scale(0.82,1)" font-size="18.5" text-anchor="middle" fill="#000" stroke="#000" stroke-width="0.35" >150</text>
<line x1="416.00" y1="349.00" x2="434.80" y2="349.00" stroke="#999" stroke-width="1.0" />
<line x1="422.60" y1="349.00" x2="422.60" y2="433.50" stroke="#999" stroke-width="1.0" />
<path d="M422.60,349.00 L425.10,361.00 L420.10,361.00 Z" fill="#000"/>
<path d="M422.60,433.50 L420.10,421.50 L425.10,421.50 Z" fill="#000"/>
<text transform="translate(417.30,391.50) rotate(-90) scale(0.82,1)" font-size="18.5" text-anchor="middle" fill="#000" stroke="#000" stroke-width="0.35" >94</text>
<line x1="551.80" y1="378.80" x2="567.50" y2="378.80" stroke="#999" stroke-width="1.0" />
<line x1="558.10" y1="378.80" x2="558.10" y2="433.50" stroke="#999" stroke-width="1.0" />
<path d="M558.10,378.80 L560.60,390.80 L555.60,390.80 Z" fill="#000"/>
<path d="M558.10,433.50 L555.60,421.50 L560.60,421.50 Z" fill="#000"/>
<text transform="translate(552.40,406.00) rotate(-90) scale(0.82,1)" font-size="18.5" text-anchor="middle" fill="#000" stroke="#000" stroke-width="0.35" >61</text>
<line x1="736.50" y1="251.30" x2="798.30" y2="251.30" stroke="#999" stroke-width="1.0" />
<line x1="792.30" y1="433.60" x2="798.30" y2="433.60" stroke="#999" stroke-width="1.0" />
<line x1="792.30" y1="251.30" x2="792.30" y2="433.60" stroke="#999" stroke-width="1.0" />
<path d="M792.30,251.30 L794.80,263.30 L789.80,263.30 Z" fill="#000"/>
<path d="M792.30,433.60 L789.80,421.60 L794.80,421.60 Z" fill="#000"/>
<text transform="translate(786.00,343.80) rotate(-90) scale(0.82,1)" font-size="18.5" text-anchor="middle" fill="#000" stroke="#000" stroke-width="0.35" >203</text>
<line x1="362.00" y1="433.80" x2="381.40" y2="433.80" stroke="#999" stroke-width="1.0" />
<line x1="362.00" y1="449.80" x2="381.40" y2="449.80" stroke="#999" stroke-width="1.0" />
<line x1="368.50" y1="408.40" x2="368.50" y2="433.80" stroke="#999" stroke-width="1.0" />
<path d="M368.50,433.80 L366.30,421.80 L370.70,421.80 Z" fill="#000"/>
<line x1="368.50" y1="449.80" x2="368.50" y2="532.30" stroke="#999" stroke-width="1.0" />
<path d="M368.50,449.80 L370.70,461.80 L366.30,461.80 Z" fill="#000"/>
<text transform="translate(363.60,505.20) rotate(-90) scale(0.8,1)" font-size="18.5" text-anchor="middle" fill="#000" stroke="#000" stroke-width="0.35" >Max 20</text>
<path d="M454.1,761.7 L454.1,775.8 A62.3,62.3 0 0 0 578.7,775.8 L578.7,665.5" stroke="#999" stroke-width="1.1" fill="none" stroke-dasharray="12 3 2 3"/>
<path d="M591.8,692.6 L591.8,775.8 A66.45,66.45 0 0 0 724.7,775.8 L724.7,673" stroke="#999" stroke-width="1.1" fill="none" stroke-dasharray="12 3 2 3"/>
<path d="M581.5,665.5 L540.4,731.3" stroke="#999" stroke-width="1.1" fill="none" stroke-dasharray="9 3 2 3"/>
<path d="M597.6,692.6 L621.6,731.3" stroke="#999" stroke-width="1.1" fill="none" stroke-dasharray="9 3 2 3"/>
<circle cx="454.10" cy="749.10" r="12.60" stroke="#888" stroke-width="1.1" fill="#fff" />
<text transform="translate(454.10,756.40) rotate(0) scale(0.8,1)" font-size="24.5" text-anchor="middle" fill="#000" stroke="#000" stroke-width="0.35" >A</text>
<circle cx="530.90" cy="749.40" r="6.70" stroke="none" stroke-width="0" fill="#0a10e0" />
<circle cx="630.00" cy="749.10" r="6.70" stroke="none" stroke-width="0" fill="#e00000" />
<line x1="764.30" y1="698.40" x2="764.30" y2="727.20" stroke="#999" stroke-width="1.0" />
<line x1="764.30" y1="718.50" x2="790.10" y2="718.50" stroke="#999" stroke-width="1.0" />
<path d="M764.30,718.50 L776.30,716.30 L776.30,720.70 Z" fill="#000"/>
<text transform="translate(765.50,756.00) rotate(0) scale(0.8,1)" font-size="24.5" text-anchor="middle" fill="#000" stroke="#000" stroke-width="0.35" >A</text>
<circle cx="885.40" cy="271.50" r="12.90" stroke="#888" stroke-width="1.1" fill="none" />
<text transform="translate(885.60,278.80) rotate(0) scale(0.8,1)" font-size="24.5" text-anchor="middle" fill="#000" stroke="#000" stroke-width="0.35" >A</text>
<circle cx="915.70" cy="271.50" r="6.80" stroke="none" stroke-width="0" fill="#0a10e0" />
<circle cx="944.00" cy="271.50" r="6.80" stroke="none" stroke-width="0" fill="#e00000" />
<rect x="875.1" y="296.1" width="21.30" height="14.60" fill="#000"/>
<rect x="877.40" y="298.20" width="6.85" height="10.20" rx="1.8" fill="#fff"/>
<rect x="887.25" y="298.20" width="6.85" height="10.20" rx="1.8" fill="#fff"/>
<rect x="876.8" y="310.7" width="17.50" height="15.50" fill="#000"/>
<rect x="880.27" y="312.90" width="1.8" height="11.10" fill="#fff"/>
<rect x="884.65" y="312.90" width="1.8" height="11.10" fill="#fff"/>
<rect x="889.02" y="312.90" width="1.8" height="11.10" fill="#fff"/>
<rect x="875.9" y="326.2" width="19.30" height="3.60" rx="1" fill="#fff" stroke="#000" stroke-width="1.7"/>
<line x1="876.50" y1="329.80" x2="876.50" y2="669.90" stroke="#000" stroke-width="1.8" />
<line x1="894.60" y1="329.80" x2="894.60" y2="669.90" stroke="#000" stroke-width="1.8" />
<rect x="875.9" y="669.9" width="19.30" height="3.80" rx="1" fill="#fff" stroke="#000" stroke-width="1.7"/>
<rect x="876.8" y="673.6999999999999" width="17.50" height="13.30" fill="#000"/>
<rect x="880.27" y="675.90" width="1.8" height="8.90" fill="#fff"/>
<rect x="884.65" y="675.90" width="1.8" height="8.90" fill="#fff"/>
<rect x="889.02" y="675.90" width="1.8" height="8.90" fill="#fff"/>
<rect x="875.1" y="688.5" width="21.30" height="14.60" fill="#000"/>
<rect x="877.40" y="690.60" width="6.85" height="10.20" rx="1.8" fill="#fff"/>
<rect x="887.25" y="690.60" width="6.85" height="10.20" rx="1.8" fill="#fff"/>
<rect x="904.7" y="296.1" width="21.50" height="14.60" fill="#000"/>
<rect x="907.00" y="298.20" width="6.95" height="10.20" rx="1.8" fill="#fff"/>
<rect x="916.95" y="298.20" width="6.95" height="10.20" rx="1.8" fill="#fff"/>
<rect x="909.2" y="310.7" width="12.50" height="15.50" fill="#000"/>
<rect x="911.43" y="312.90" width="1.8" height="11.10" fill="#fff"/>
<rect x="914.55" y="312.90" width="1.8" height="11.10" fill="#fff"/>
<rect x="917.68" y="312.90" width="1.8" height="11.10" fill="#fff"/>
<rect x="908.3" y="326.2" width="14.30" height="3.60" rx="1" fill="#fff" stroke="#000" stroke-width="1.7"/>
<line x1="908.90" y1="329.80" x2="908.90" y2="626.90" stroke="#000" stroke-width="1.8" />
<line x1="922.00" y1="329.80" x2="922.00" y2="626.90" stroke="#000" stroke-width="1.8" />
<rect x="908.3" y="626.9" width="14.30" height="3.80" rx="1" fill="#fff" stroke="#000" stroke-width="1.7"/>
<rect x="909.2" y="630.6999999999999" width="12.50" height="11.40" fill="#000"/>
<rect x="911.43" y="632.90" width="1.8" height="7.00" fill="#fff"/>
<rect x="914.55" y="632.90" width="1.8" height="7.00" fill="#fff"/>
<rect x="917.68" y="632.90" width="1.8" height="7.00" fill="#fff"/>
<rect x="904.7" y="643.6" width="21.50" height="14.60" fill="#000"/>
<rect x="907.00" y="645.70" width="6.95" height="10.20" rx="1.8" fill="#fff"/>
<rect x="916.95" y="645.70" width="6.95" height="10.20" rx="1.8" fill="#fff"/>
<rect x="933.0" y="296.1" width="21.30" height="14.60" fill="#000"/>
<rect x="935.30" y="298.20" width="6.85" height="10.20" rx="1.8" fill="#fff"/>
<rect x="945.15" y="298.20" width="6.85" height="10.20" rx="1.8" fill="#fff"/>
<rect x="937.5" y="310.7" width="12.50" height="15.50" fill="#000"/>
<rect x="939.73" y="312.90" width="1.8" height="11.10" fill="#fff"/>
<rect x="942.85" y="312.90" width="1.8" height="11.10" fill="#fff"/>
<rect x="945.98" y="312.90" width="1.8" height="11.10" fill="#fff"/>
<rect x="936.6" y="326.2" width="14.30" height="3.60" rx="1" fill="#fff" stroke="#000" stroke-width="1.7"/>
<line x1="937.20" y1="329.80" x2="937.20" y2="626.90" stroke="#000" stroke-width="1.8" />
<line x1="950.30" y1="329.80" x2="950.30" y2="626.90" stroke="#000" stroke-width="1.8" />
<rect x="936.6" y="626.9" width="14.30" height="3.80" rx="1" fill="#fff" stroke="#000" stroke-width="1.7"/>
<rect x="937.5" y="630.6999999999999" width="12.50" height="11.40" fill="#000"/>
<rect x="939.73" y="632.90" width="1.8" height="7.00" fill="#fff"/>
<rect x="942.85" y="632.90" width="1.8" height="7.00" fill="#fff"/>
<rect x="945.98" y="632.90" width="1.8" height="7.00" fill="#fff"/>
<rect x="933.0" y="643.6" width="21.30" height="14.60" fill="#000"/>
<rect x="935.30" y="645.70" width="6.85" height="10.20" rx="1.8" fill="#fff"/>
<rect x="945.15" y="645.70" width="6.85" height="10.20" rx="1.8" fill="#fff"/>
<rect x="386.50" y="902.50" width="405.40" height="96.10" rx="0" stroke="#000" stroke-width="2.0" fill="none"/>
<line x1="440.40" y1="947.40" x2="742.40" y2="947.40" stroke="#999" stroke-width="1.1" stroke-dasharray="12 3 2 3"/>
<circle cx="453.70" cy="947.40" r="11.30" stroke="#000" stroke-width="2.0" fill="none" />
<line x1="453.70" y1="932.60" x2="453.70" y2="962.20" stroke="#999" stroke-width="1.0" />
<line x1="429.51" y1="975.53" x2="519.84" y2="870.50" stroke="#999" stroke-width="1.0" />
<path d="M461.07,938.83 L467.15,928.24 L470.64,931.24 Z" fill="#000"/>
<path d="M446.33,955.97 L440.25,966.56 L436.76,963.56 Z" fill="#000"/>
<text transform="translate(503.97,880.37) rotate(-49.3) scale(0.82,1)" font-size="18.5" text-anchor="middle" fill="#000" stroke="#000" stroke-width="0.35" >Ø25</text>
<circle cx="589.40" cy="947.40" r="15.70" stroke="#000" stroke-width="2.0" fill="none" />
<line x1="589.40" y1="928.20" x2="589.40" y2="966.60" stroke="#999" stroke-width="1.0" />
<line x1="562.14" y1="979.09" x2="655.54" y2="870.50" stroke="#999" stroke-width="1.0" />
<path d="M599.64,935.50 L605.72,924.90 L609.21,927.90 Z" fill="#000"/>
<path d="M579.16,959.30 L573.08,969.90 L569.59,966.90 Z" fill="#000"/>
<text transform="translate(639.67,880.37) rotate(-49.3) scale(0.82,1)" font-size="18.5" text-anchor="middle" fill="#000" stroke="#000" stroke-width="0.35" >Ø35</text>
<circle cx="724.70" cy="947.40" r="14.90" stroke="#000" stroke-width="2.0" fill="none" />
<line x1="724.70" y1="929.00" x2="724.70" y2="965.80" stroke="#999" stroke-width="1.0" />
<line x1="698.22" y1="978.18" x2="790.84" y2="870.50" stroke="#999" stroke-width="1.0" />
<path d="M734.42,936.10 L740.50,925.51 L743.99,928.51 Z" fill="#000"/>
<path d="M714.98,958.70 L708.90,969.29 L705.41,966.29 Z" fill="#000"/>
<text transform="translate(774.97,880.37) rotate(-49.3) scale(0.82,1)" font-size="18.5" text-anchor="middle" fill="#000" stroke="#000" stroke-width="0.35" >Ø33</text>
</svg>
</body></html>
